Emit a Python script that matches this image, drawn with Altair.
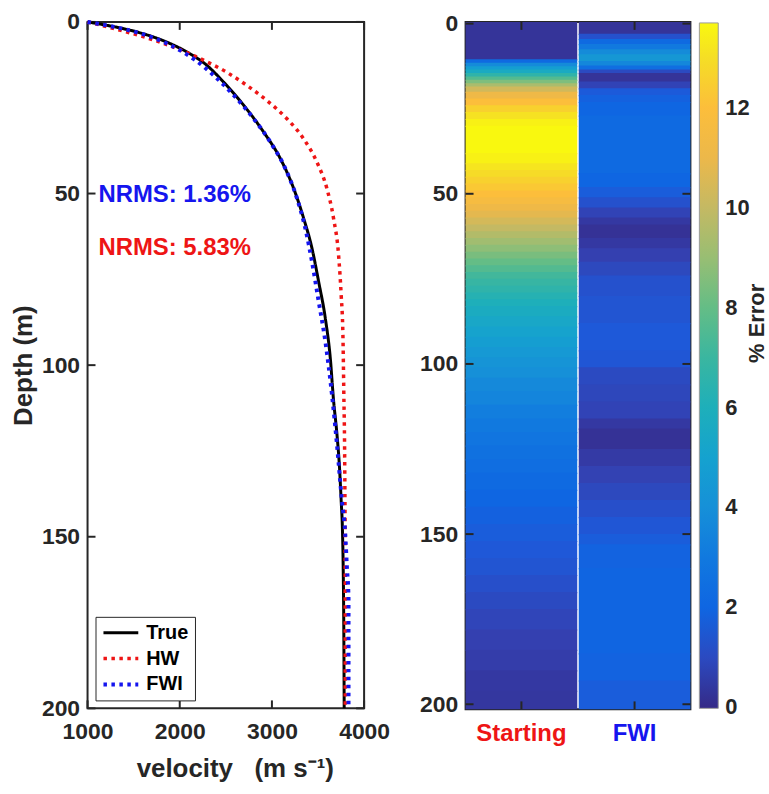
import altair as alt
import pandas as pd

# ---------------- data: velocity profiles (left panel) ----------------
series_names = ["True", "HW", "FWI"]
series_colors = ["#000000", "#ee1515", "#1515ee"]

true_depth = [0, 11.3, 17.7, 24.4, 32.2, 39.9, 48.6, 57.3, 66, 75.7, 86.3, 97.9, 110.4, 120, 129.8, 139.4, 149, 158.7, 178, 200]
true_vel = [1000, 2230, 2482, 2697, 2913, 3093, 3237, 3345, 3435, 3507, 3579, 3633, 3669, 3705, 3733, 3751, 3766, 3773, 3780, 3784]

hw_depth = [0, 10.4, 14.8, 18.6, 23, 28.3, 34.1, 40.9, 48.6, 57.3, 67.9, 79.5, 91.1, 108.5, 130, 160, 200]
hw_vel = [1000, 2200, 2518, 2734, 2950, 3166, 3345, 3489, 3597, 3669, 3723, 3751, 3770, 3780, 3790, 3795, 3795]

fwi_depth = [0, 10.9, 15.7, 21.5, 28.3, 35.1, 42.8, 51.5, 60.2, 69.9, 81.4, 93, 108.5, 123, 139.4, 149, 158.7, 168, 200]
fwi_vel = [1000, 2158, 2374, 2590, 2805, 2985, 3147, 3273, 3363, 3435, 3507, 3579, 3651, 3705, 3759, 3795, 3813, 3831, 3831]

nrms_labels = ["NRMS: 1.36%", "NRMS: 5.83%"]
nrms_colors = ["#1515ee", "#ee1515"]

x_ticks = [1000, 2000, 3000, 4000]
depth_ticks = [0, 50, 100, 150, 200]

# ---------------- data: % error per depth band (right panel) ----------------
columns = ["Starting", "FWI"]
column_colors = ["#ee1515", "#1515ee"]
heat_bottom = 201.5

start_edges = [-0.5, 10.5, 11.5, 12.5, 13.5, 14.5, 15.5, 16.5, 17.5, 18.5, 20, 22, 24, 26, 28, 30, 38, 41, 43, 45,
               47, 49, 51, 53, 55, 57, 59, 61, 63, 65, 67, 69, 71, 73, 75, 77, 79, 81, 83, 86, 89, 92, 95, 98, 101,
               104, 108, 112, 116, 120, 124, 128, 132, 137, 142, 147, 152, 157, 162, 167, 172, 178, 184, 190, 196]
start_err = [0.3, 2.2, 3.8, 4.8, 5.6, 6.6, 7.6, 8.5, 9.4, 10.3, 11.2, 12.0, 12.6, 13.1, 13.5, 13.7, 13.5, 13.2, 12.9, 12.6,
             12.3, 12.0, 11.6, 11.2, 10.8, 10.4, 10.0, 9.6, 9.2, 8.8, 8.4, 8.0, 7.6, 7.2, 6.9, 6.6, 6.3, 6.0, 5.7, 5.4,
             5.1, 4.8, 4.5, 4.2, 4.0, 3.7, 3.5, 3.2, 3.0, 2.8, 2.6, 2.4, 2.2, 2.0, 1.8, 1.6, 1.4, 1.3, 1.15, 1.0,
             0.85, 0.7, 0.6, 0.45, 0.4]

fwi_edges = [-0.5, 3, 4.5, 6, 7.5, 9, 11, 12.3, 13.5, 14.5, 17, 19, 21, 23, 27, 44, 48, 51, 54, 57,
             59, 63, 66, 70, 74, 80, 88, 96, 101, 106, 111, 116, 119, 125, 130, 135, 140, 145, 150, 153,
             160, 185, 193]
fwi_err = [0.3, 1.2, 2.2, 3.0, 3.8, 4.4, 3.6, 2.4, 1.0, 0.3, 0.8, 1.5, 1.8, 2.0, 2.2, 2.0, 1.6, 1.2, 0.8, 0.45,
           0.25, 0.45, 0.7, 0.95, 1.2, 1.3, 1.45, 1.35, 1.0, 0.9, 0.8, 0.45, 0.25, 0.5, 0.75, 0.95, 1.15, 1.35, 1.6, 1.85,
           1.95, 1.85, 1.6]

# colour bar (parula-like)
cb_domain = [-0.02, 0.7, 1.4, 2, 3, 4, 5, 6, 7, 8, 9, 10, 11, 12, 13, 13.7]
cb_colors = ["#352a87", "#3440b0", "#1f58d8", "#0f66e2", "#1179df", "#1690d8", "#15a2cf", "#1eafba",
             "#3ab6a0", "#64bd86", "#98be73", "#c4b963", "#ecb84a", "#fcbe3b", "#f5de25", "#f9f80f"]
cb_ticks = [0, 2, 4, 6, 8, 10, 12]
cb_title = ["% Error"]

# ---------------- tables ----------------
rows = []
for name, ds, vs in zip(series_names, [true_depth, hw_depth, fwi_depth], [true_vel, hw_vel, fwi_vel]):
    for d, v in zip(ds, vs):
        rows.append({"series": name, "depth": d, "velocity": v})
lines_df = pd.DataFrame(rows)

SEAM = 0.35  # small overlap between neighbouring bands to hide anti-aliasing seams
hrows = []
for col, edges, vals in [("Starting", start_edges, start_err), ("FWI", fwi_edges, fwi_err)]:
    for i, (e, v) in enumerate(zip(edges, vals)):
        e2 = edges[i + 1] + SEAM if i + 1 < len(edges) else heat_bottom
        hrows.append({"col": col, "top": e, "bot": e2, "err": v})
heat_df = pd.DataFrame(hrows)

FONT = "Liberation Sans"
TXT = "#262626"
TL = 8  # tick length (inward)
TW = 2  # tick width

# ---------------- left panel ----------------
LW, LH = 278, 690
xs = alt.Scale(domain=[1000, 4000], nice=False, zero=False)
ys = alt.Scale(domain=[0, 200], reverse=True, nice=False)

leg = alt.Legend(title=None, orient="bottom-left", offset=8, fillColor="white", strokeColor=TXT,
                 padding=6, labelFontSize=20, labelFont=FONT, labelFontWeight="bold", labelColor="black",
                 symbolType="stroke", symbolSize=1225, symbolStrokeWidth=4, clipHeight=20, rowPadding=6,
                 labelOffset=6)

x_axis_main = alt.Axis(orient="bottom", values=x_ticks, format="d", ticks=False, domain=False,
                       grid=False, labelPadding=12, labelFlush=False,
                       title="velocity\u00a0\u00a0\u00a0(m s\u207b\u00b9)", titlePadding=13, titleX=148)
y_axis_main = alt.Axis(orient="left", values=depth_ticks, ticks=False, domain=False, grid=False,
                       labelPadding=8, labelFlush=False, title="Depth (m)", titlePadding=5)

lines = alt.Chart(lines_df).mark_line(interpolate="monotone", strokeCap="butt").encode(
    x=alt.X("velocity:Q", scale=xs, axis=x_axis_main),
    y=alt.Y("depth:Q", scale=ys, axis=y_axis_main),
    color=alt.Color("series:N", scale=alt.Scale(domain=series_names, range=series_colors), legend=leg),
    strokeDash=alt.StrokeDash("series:N",
                              scale=alt.Scale(domain=series_names, range=[[1, 0], [3.5, 4.5], [3.5, 4.5]]),
                              legend=leg),
    strokeWidth=alt.StrokeWidth("series:N", scale=alt.Scale(domain=series_names, range=[3, 4, 4]), legend=None),
    order=alt.Order("depth:Q"),
)

# inward tick marks, drawn as short rules at the tick values
xt_df = pd.DataFrame({"velocity": x_ticks})
dt_df = pd.DataFrame({"depth": depth_ticks})

xtick_b = alt.Chart(xt_df).mark_rule(color=TXT, strokeWidth=TW).encode(
    x=alt.X("velocity:Q", scale=xs, axis=x_axis_main), y=alt.value(LH - TL), y2=alt.value(LH))
xtick_t = alt.Chart(xt_df).mark_rule(color=TXT, strokeWidth=TW).encode(
    x=alt.X("velocity:Q", scale=xs, axis=x_axis_main), y=alt.value(0), y2=alt.value(TL))
ytick_l = alt.Chart(dt_df).mark_rule(color=TXT, strokeWidth=TW).encode(
    y=alt.Y("depth:Q", scale=ys, axis=y_axis_main), x=alt.value(0), x2=alt.value(TL))
ytick_r = alt.Chart(dt_df).mark_rule(color=TXT, strokeWidth=TW).encode(
    y=alt.Y("depth:Q", scale=ys, axis=y_axis_main), x=alt.value(LW - TL), x2=alt.value(LW))

txt_blue = alt.Chart(pd.DataFrame({"t": [nrms_labels[0]]})).mark_text(
    align="left", baseline="middle", font=FONT, fontSize=24, fontWeight="bold", color=nrms_colors[0]
).encode(text="t:N", x=alt.value(11), y=alt.value(174))
txt_red = alt.Chart(pd.DataFrame({"t": [nrms_labels[1]]})).mark_text(
    align="left", baseline="middle", font=FONT, fontSize=24, fontWeight="bold", color=nrms_colors[1]
).encode(text="t:N", x=alt.value(11), y=alt.value(227))

left = alt.layer(xtick_b, xtick_t, ytick_l, ytick_r, lines, txt_blue, txt_red).properties(width=LW, height=LH)

# ---------------- right panel ----------------
RW, RH = 226, 691
cs = alt.Scale(domain=cb_domain, range=cb_colors, interpolate="rgb")
hy = alt.Scale(domain=[-0.5, heat_bottom], reverse=True, nice=False, zero=False)
hx = alt.Scale(domain=columns, paddingInner=0.013, paddingOuter=0)

cleg = alt.Legend(title=None, type="gradient", orient="none", legendX=235, legendY=1, direction="vertical",
                  gradientLength=689, gradientThickness=19, values=cb_ticks, labelFontSize=22,
                  labelFont=FONT, labelFontWeight="bold", labelColor=TXT, labelOffset=7,
                  labelBaseline="middle", gradientStrokeColor="#9a9a9a", gradientStrokeWidth=1,
                  labelOverlap=False)

hx_axis = alt.Axis(orient="bottom", ticks=False, domain=False, labelAngle=0, labelPadding=12,
                   labelFontSize=24,
                   labelColor={"condition": {"test": "datum.value == 'Starting'", "value": column_colors[0]},
                               "value": column_colors[1]},
                   title=None)
hy_axis = alt.Axis(orient="left", values=depth_ticks, ticks=False, domain=False, grid=False,
                   labelPadding=8, labelFlush=False, title=None)

heat = alt.Chart(heat_df).mark_rect().encode(
    x=alt.X("col:N", sort=columns, scale=hx, axis=hx_axis),
    y=alt.Y("top:Q", scale=hy, axis=hy_axis),
    y2="bot:Q",
    color=alt.Color("err:Q", scale=cs, legend=cleg),
)

ct_df = pd.DataFrame({"col": columns})
rt_df = pd.DataFrame({"top": depth_ticks})

ctick_b = alt.Chart(ct_df).mark_rule(color=TXT, strokeWidth=TW).encode(
    x=alt.X("col:N", sort=columns, scale=hx, axis=hx_axis), y=alt.value(RH - TL), y2=alt.value(RH))
ctick_t = alt.Chart(ct_df).mark_rule(color=TXT, strokeWidth=TW).encode(
    x=alt.X("col:N", sort=columns, scale=hx, axis=hx_axis), y=alt.value(0), y2=alt.value(TL))
rtick_l = alt.Chart(rt_df).mark_rule(color=TXT, strokeWidth=TW).encode(
    y=alt.Y("top:Q", scale=hy, axis=hy_axis), x=alt.value(0), x2=alt.value(TL))
rtick_r = alt.Chart(rt_df).mark_rule(color=TXT, strokeWidth=TW).encode(
    y=alt.Y("top:Q", scale=hy, axis=hy_axis), x=alt.value(RW - TL), x2=alt.value(RW))

cb_text = alt.Chart(pd.DataFrame({"t": cb_title})).mark_text(
    angle=270, align="center", baseline="top", font=FONT, fontSize=22, fontWeight="bold", color=TXT
).encode(text="t:N", x=alt.value(283), y=alt.value(303))

right = alt.layer(heat, ctick_b, ctick_t, rtick_l, rtick_r, cb_text).properties(width=RW, height=RH)

chart = alt.hconcat(left, right, spacing=102, bounds="flush").resolve_scale(
    color="independent", strokeDash="independent", strokeWidth="independent"
).resolve_legend(color="independent").properties(
    padding={"left": 9, "top": 8, "right": 0, "bottom": 0}
).configure_view(
    stroke=TXT, strokeWidth=2
).configure_axis(
    labelFont=FONT, labelFontSize=23, labelFontWeight="bold", labelColor=TXT,
    titleFont=FONT, titleFontSize=26, titleFontWeight="bold", titleColor=TXT
)

chart.save("out.html", embed_options={"renderer": "svg", "actions": False})
